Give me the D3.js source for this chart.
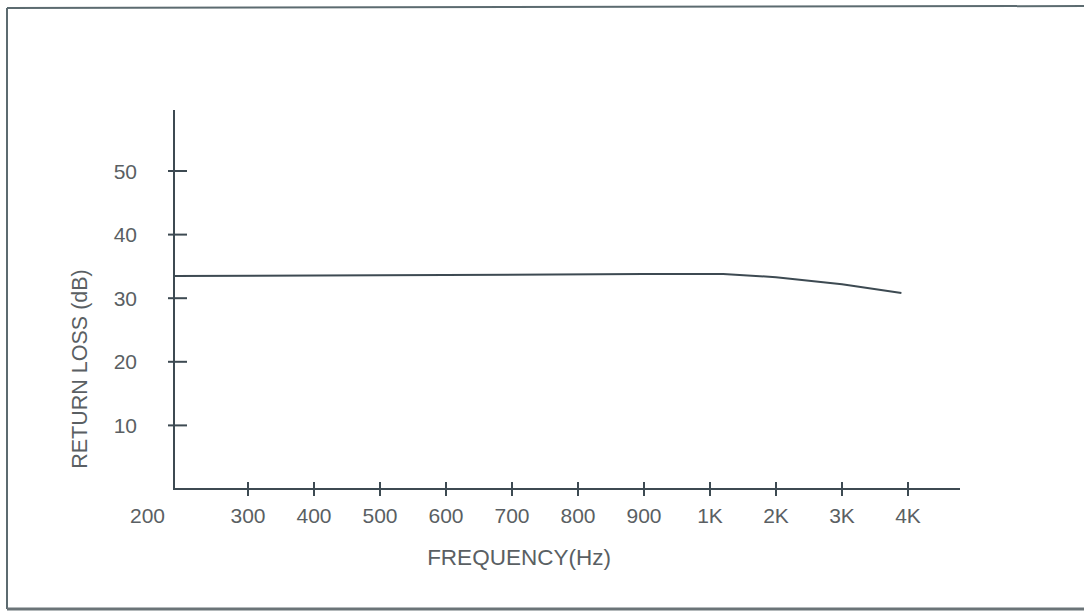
<!DOCTYPE html>
<html>
<head>
<meta charset="utf-8">
<script src="https://cdn.jsdelivr.net/npm/d3@7"></script>
<style>
  html, body { margin: 0; padding: 0; background: #fff; }
  svg { display: block; }
  text { font-family: "Liberation Sans", Arial, sans-serif; fill: #5a5f63; }
</style>
</head>
<body>
<svg id="chart" width="1084" height="613"></svg>
<script>
// ---- data ----
const tickLabels = ["200", "300", "400", "500", "600", "700", "800", "900", "1K", "2K", "3K", "4K"];
const tickFreqs  = [200, 300, 400, 500, 600, 700, 800, 900, 1000, 2000, 3000, 4000];
const yTicks = [10, 20, 30, 40, 50];
const lineFreqs  = [200, 500, 900, 1200, 2000, 3000, 3900];
const lineValues = [33.5, 33.6, 33.8, 33.8, 33.3, 32.2, 30.8];

// ---- layout ----
const svg = d3.select("#chart");
const originX = 174, axisY = 489, axisTop = 110, axisRight = 960;
const lineColor = "#3d4a52";

// frame
svg.append("line").attr("x1", 7).attr("y1", 8).attr("x2", 1084).attr("y2", 6)
  .attr("stroke", "#5c6b70").attr("stroke-width", 2);
svg.append("line").attr("x1", 7).attr("y1", 8).attr("x2", 7).attr("y2", 609)
  .attr("stroke", "#5c6b70").attr("stroke-width", 2);
svg.append("line").attr("x1", 7).attr("y1", 609).attr("x2", 1084).attr("y2", 609)
  .attr("stroke", "#6b7478").attr("stroke-width", 3);

// scales
const xPoint = d3.scalePoint().domain(tickLabels.slice(1)).range([248, 908]);
const x = d3.scaleLinear()
  .domain(tickFreqs)
  .range([originX].concat(tickLabels.slice(1).map(d => xPoint(d))));
const y = d3.scaleLinear().domain([0, 50]).range([axisY, 171]);

// y axis
svg.append("line").attr("x1", originX).attr("y1", axisTop).attr("x2", originX).attr("y2", axisY + 1)
  .attr("stroke", lineColor).attr("stroke-width", 2);
const yg = svg.append("g");
yg.selectAll("line.tick").data(yTicks).join("line")
  .attr("x1", originX - 6).attr("x2", originX + 13)
  .attr("y1", d => y(d)).attr("y2", d => y(d))
  .attr("stroke", lineColor).attr("stroke-width", 2);
yg.selectAll("text").data(yTicks).join("text")
  .attr("x", 137).attr("y", d => y(d)).attr("dy", "0.36em")
  .attr("text-anchor", "end").attr("font-size", 21)
  .text(d => d);

// x axis
svg.append("line").attr("x1", originX - 1).attr("y1", axisY).attr("x2", axisRight).attr("y2", axisY)
  .attr("stroke", lineColor).attr("stroke-width", 2);
const xg = svg.append("g");
xg.selectAll("line.tick").data(tickFreqs.slice(1)).join("line")
  .attr("x1", d => x(d)).attr("x2", d => x(d))
  .attr("y1", axisY - 7).attr("y2", axisY + 7)
  .attr("stroke", lineColor).attr("stroke-width", 2);
xg.selectAll("text").data(tickFreqs).join("text")
  .attr("x", (d, i) => i === 0 ? x(d) - 9 : x(d))
  .attr("y", 523)
  .attr("text-anchor", (d, i) => i === 0 ? "end" : "middle")
  .attr("font-size", 21)
  .text((d, i) => tickLabels[i]);

// axis titles
svg.append("text").attr("x", 519).attr("y", 565).attr("text-anchor", "middle")
  .attr("font-size", 22.5).text("FREQUENCY(Hz)");
svg.append("text").attr("transform", "translate(87,369) rotate(-90)")
  .attr("text-anchor", "middle").attr("font-size", 21.5).text("RETURN LOSS (dB)");

// data line
const pts = lineFreqs.map((f, i) => [x(f), y(lineValues[i])]);
svg.append("path").attr("d", d3.line()(pts))
  .attr("fill", "none").attr("stroke", lineColor).attr("stroke-width", 2);
</script>
</body>
</html>
